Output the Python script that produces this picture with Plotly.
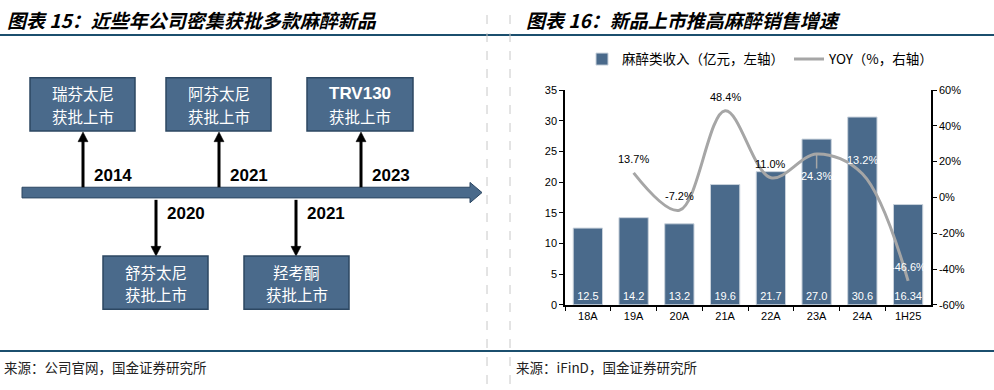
import plotly.graph_objects as go

# ---------------- data ----------------
categories = ["18A", "19A", "20A", "21A", "22A", "23A", "24A", "1H25"]
revenue = [12.5, 14.2, 13.2, 19.6, 21.7, 27.0, 30.6, 16.34]
yoy = [None, 13.7, -7.2, 48.4, 11.0, 24.3, 13.2, -46.6]
yoy_label_color = [None, "#000000", "#000000", "#000000", "#000000", "#FFFFFF", "#FFFFFF", "#FFFFFF"]
left_ticks = [0, 5, 10, 15, 20, 25, 30, 35]
right_ticks = [-60, -40, -20, 0, 20, 40, 60]

up_years = ["2014", "2021", "2023"]
up_line1 = ["瑞芬太尼", "阿芬太尼", "TRV130"]
up_line2 = ["获批上市", "获批上市", "获批上市"]
down_years = ["2020", "2021"]
down_line1 = ["舒芬太尼", "羟考酮"]
down_line2 = ["获批上市", "获批上市"]

title_left = "图表 15：近些年公司密集获批多款麻醉新品"
title_right = "图表 16：新品上市推高麻醉销售增速"
source_left = "来源：公司官网，国金证券研究所"
source_right = "来源：iFinD，国金证券研究所"
legend_bar = "麻醉类收入（亿元，左轴）"
legend_line = "YOY（%，右轴）"

# ---------------- helpers ----------------
W, H = 994, 390
def px(x):
    return x / W
def py(y):
    return 1 - y / H

BAR = "#4A6A8B"
BOX_EDGE = "#2C4762"
LINE = "#A6A6A6"
CJK = "Noto Sans CJK SC"
LAT = "Arial, Liberation Sans, sans-serif"

fig = go.Figure()

fig.add_trace(go.Bar(
    x=categories, y=revenue, name=legend_bar,
    marker=dict(color=BAR, line=dict(color="#C9D2DC", width=1)),
    width=0.64,
    text=[f"{v:.1f}" if round(v, 1) == v else f"{v:.2f}" for v in revenue],
    textposition="inside", insidetextanchor="start", textangle=0,
    textfont=dict(color="white", size=11, family=LAT),
    xaxis="x", yaxis="y",
))
fig.add_trace(go.Scatter(
    x=categories, y=yoy, name=legend_line, mode="lines",
    line=dict(color=LINE, width=3, shape="spline", smoothing=1),
    xaxis="x", yaxis="y2",
))

annotations = []
shapes = []

def paper_text(x, y, text, size, family, color="#000", xanchor="center"):
    return dict(x=px(x), y=py(y), xref="paper", yref="paper", xanchor=xanchor,
                yanchor="middle", text=text, showarrow=False,
                font=dict(size=size, family=family, color=color))

# YOY labels
for c, v, col in zip(categories, yoy, yoy_label_color):
    if v is None:
        continue
    if c == "23A":
        annotations.append(dict(x=c, y=v, xref="x", yref="y2", text=f"{v:.1f}%",
                                xanchor="center", yanchor="middle",
                                showarrow=True, ax=0, ay=22, arrowhead=0, arrowwidth=1.5,
                                arrowcolor=LINE, font=dict(color=col, size=11, family=LAT)))
    else:
        annotations.append(dict(x=c, y=v, xref="x", yref="y2", text=f"{v:.1f}%",
                                xanchor="center", yanchor="middle",
                                showarrow=False, yshift=14,
                                font=dict(color=col, size=11, family=LAT)))

# titles, rules, sources
annotations += [
    paper_text(5, 14, f"<b><i>{title_left}</i></b>", 19, CJK, xanchor="left"),
    paper_text(524, 14, f"<b><i>{title_right}</i></b>", 19, CJK, xanchor="left"),
    paper_text(2, 372, source_left, 13.5, CJK, "#222", xanchor="left"),
    paper_text(514, 372, source_right, 13.5, CJK, "#222", xanchor="left"),
]
shapes += [
    dict(type="line", xref="paper", yref="paper", x0=0, x1=1, y0=py(30), y1=py(30),
         line=dict(color="#1B4F6E", width=2)),
    dict(type="line", xref="paper", yref="paper", x0=0, x1=1, y0=py(356), y1=py(356),
         line=dict(color="#1B4F6E", width=2)),
    dict(type="line", xref="paper", yref="paper", x0=px(487), x1=px(487), y0=0, y1=1,
         line=dict(color="#C8C8C8", width=1, dash="dash")),
    dict(type="line", xref="paper", yref="paper", x0=px(510), x1=px(510), y0=0, y1=1,
         line=dict(color="#C8C8C8", width=1, dash="dash")),
]

# ---------------- timeline diagram ----------------
def path(points):
    return "M " + " L ".join(f"{px(x)},{py(y)}" for x, y in points) + " Z"

shapes.append(dict(type="path", xref="paper", yref="paper",
                   path=path([(22, 187), (470, 187), (470, 182), (482, 192.5), (470, 203),
                              (470, 198), (22, 198)]),
                   fillcolor=BAR, line=dict(color=BOX_EDGE, width=1)))

up_x = [83, 219, 361]
up_box = [(30, 135), (166, 271), (307, 413)]
for i, (xa, (bx0, bx1)) in enumerate(zip(up_x, up_box)):
    shapes.append(dict(type="line", xref="paper", yref="paper", x0=px(xa), x1=px(xa),
                       y0=py(187), y1=py(139), line=dict(color="black", width=3)))
    shapes.append(dict(type="path", xref="paper", yref="paper",
                       path=path([(xa - 5, 140), (xa, 130), (xa + 5, 140)]),
                       fillcolor="black", line=dict(color="black", width=0.5)))
    shapes.append(dict(type="rect", xref="paper", yref="paper", x0=px(bx0), x1=px(bx1),
                       y0=py(129), y1=py(74), fillcolor=BAR, line=dict(color=BOX_EDGE, width=1.5)))
    cx = (bx0 + bx1) / 2
    is_lat = up_line1[i].isascii()
    annotations.append(paper_text(cx, 90, f"<b>{up_line1[i]}</b>" if is_lat else up_line1[i],
                                  17 if is_lat else 15.5, LAT if is_lat else CJK, "white"))
    annotations.append(paper_text(cx, 113, up_line2[i], 15.5, CJK, "white"))
    annotations.append(paper_text(xa + 9, 175, f"<b>{up_years[i]}</b>", 17, LAT, "black",
                                  xanchor="left"))

down_x = [156, 296]
down_box = [(103, 208), (244, 349)]
for i, (xa, (bx0, bx1)) in enumerate(zip(down_x, down_box)):
    shapes.append(dict(type="line", xref="paper", yref="paper", x0=px(xa), x1=px(xa),
                       y0=py(200), y1=py(249), line=dict(color="black", width=3)))
    shapes.append(dict(type="path", xref="paper", yref="paper",
                       path=path([(xa - 5, 248), (xa, 258), (xa + 5, 248)]),
                       fillcolor="black", line=dict(color="black", width=0.5)))
    shapes.append(dict(type="rect", xref="paper", yref="paper", x0=px(bx0), x1=px(bx1),
                       y0=py(313), y1=py(258), fillcolor=BAR, line=dict(color=BOX_EDGE, width=1.5)))
    cx = (bx0 + bx1) / 2
    annotations.append(paper_text(cx, 274, down_line1[i], 15.5, CJK, "white"))
    annotations.append(paper_text(cx, 297, down_line2[i], 15.5, CJK, "white"))
    annotations.append(paper_text(xa + 9, 214, f"<b>{down_years[i]}</b>", 17, LAT, "black",
                                  xanchor="left"))

axis_common = dict(showline=True, linecolor="black", linewidth=1.5, ticks="outside",
                   ticklen=4, tickcolor="black", showgrid=False, zeroline=False,
                   tickfont=dict(size=11, family=LAT, color="#000"))

fig.update_layout(
    width=W, height=H, margin=dict(l=0, r=0, t=0, b=0),
    paper_bgcolor="white", plot_bgcolor="white",
    showlegend=True,
    legend=dict(orientation="h", x=px(582), y=py(55), xanchor="left", yanchor="middle",
                font=dict(size=13.5, family=CJK, color="#000"), itemwidth=30,
                bgcolor="rgba(0,0,0,0)", tracegroupgap=0),
    xaxis=dict(domain=[px(565), px(931)], anchor="y", type="category",
               range=[-0.5, 7.5], tickson="boundaries", **axis_common),
    yaxis=dict(domain=[py(308.3), py(86.7)], anchor="x", range=[0, 35],
               tickvals=left_ticks, **axis_common),
    yaxis2=dict(domain=[py(308.3), py(86.7)], anchor="x", overlaying="y", side="right",
                range=[-60, 60], tickvals=right_ticks,
                ticktext=[f"{v}%" for v in right_ticks], **axis_common),
    uniformtext=dict(minsize=11, mode="show"),
    annotations=annotations, shapes=shapes,
)

fig.write_html("out.html", config={"displayModeBar": False},
               post_script="document.body.style.margin='0px';document.body.style.padding='0px';")
